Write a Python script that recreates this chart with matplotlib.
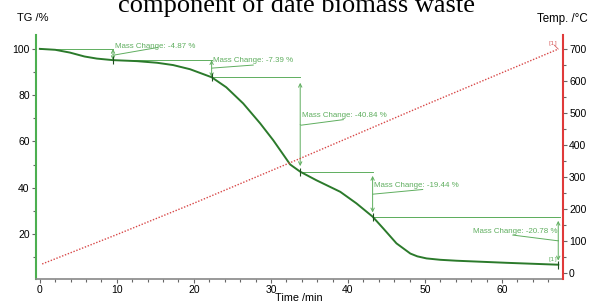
import matplotlib
matplotlib.use("Agg")
import matplotlib.pyplot as plt
import numpy as np
from matplotlib.ticker import MultipleLocator

# ---- data ----
time_tg = [0, 2, 3.9, 5.8, 7.4, 9.5, 12.6, 15.2, 17.3, 19.5, 22.3, 24.2, 26.4,
           28.6, 30.3, 31.6, 32.5, 33.8, 35.9, 39.0, 41.1, 43.2, 44.6, 46.3,
           48.1, 49.0, 50.2, 52.0, 54.1, 60.6, 67.3]
tg = [100, 99.6, 98.4, 96.7, 95.8, 95.13, 94.7, 94.0, 93.0, 91.2, 87.74, 83.4,
      76.4, 67.8, 60.5, 54.3, 50.0, 46.9, 43.2, 38.2, 33.2, 27.46, 22.3, 15.9,
      11.5, 10.3, 9.4, 8.8, 8.4, 7.5, 6.68]
time_temp = [0.3, 10, 20, 33.8, 50, 67.3]
temp = [28, 120, 218, 358, 525, 700]

step_times = [0, 9.5, 22.3, 33.8, 43.2, 67.3]
step_mass = [100, 95.13, 87.74, 46.9, 27.46, 6.68]
step_labels = ["Mass Change: -4.87 %", "Mass Change: -7.39 %", "Mass Change: -40.84 %",
               "Mass Change: -19.44 %", "Mass Change: -20.78 %"]

TG_C = "#2b7a2b"
ANN_C = "#5fae5f"
RED = "#e03a3a"

fig = plt.figure(figsize=(5.95, 3.03), dpi=100)
ax = fig.add_axes([0.0605, 0.0792, 0.8855, 0.8053])
ax2 = ax.twinx()

ax2.plot(time_temp, temp, color="#d84848", ls=(0, (1, 1.2)), lw=1.0)
ax2.plot([time_temp[-1], time_temp[-1] - 0.5], [temp[-1], temp[-1] + 12],
         color="#d86060", lw=0.6)
ax.plot(time_tg, tg, color=TG_C, lw=1.4, zorder=5)

ax.set_xlim(-0.5, 67.9)
ax.set_ylim(0.5, 106)
ax2.set_ylim(-19, 744)

# annotations
fs_ann = 5.7
gaps = [0, 0, 4, 3, 3]
for i in range(5):
    t0, t1 = step_times[i], step_times[i + 1]
    m0, m1 = step_mass[i], step_mass[i + 1]
    ax.plot([t0, t1], [m0, m0], color=ANN_C, lw=0.7)
    mid = (m0 + m1) / 2
    ax.annotate("", xy=(t1, m0), xytext=(t1, mid),
                arrowprops=dict(arrowstyle="->", color=ANN_C, lw=0.7, shrinkA=0,
                                shrinkB=gaps[i], mutation_scale=6))
    ax.annotate("", xy=(t1, m1), xytext=(t1, mid),
                arrowprops=dict(arrowstyle="->", color=ANN_C, lw=0.7, shrinkA=0,
                                shrinkB=gaps[i], mutation_scale=6))
# last step horizontal extends to end
ax.plot([step_times[4], 67.5], [step_mass[4], step_mass[4]], color=ANN_C, lw=0.7)
# small vertical marks at step points
ax.plot(step_times[1:], step_mass[1:], ls="none", marker="|", ms=6, mew=0.8,
        color="#1f4f1f", zorder=6)

# text positions (centre-left, or centre-right for the last one)
txt = [(9.7, 101.2, "left"), (22.5, 95.1, "left"), (34.0, 71.4, "left"),
       (43.4, 41.1, "left"), (67.2, 20.9, "right")]
lead = [((9.6, 97.3), (15.3, 100.6)), ((22.4, 91.7), (27.7, 93.0)),
        ((33.9, 67.0), (39.4, 69.4)), ((43.3, 37.2), (49.7, 39.2)),
        ((67.3, 17.0), (61.4, 19.5))]
for (x, y, ha), lab, (p, q) in zip(txt, step_labels, lead):
    ax.text(x, y, lab, color=ANN_C, fontsize=fs_ann, ha=ha, va="center",
            family="Liberation Sans")
    ax.plot([p[0], q[0]], [p[1], q[1]], color=ANN_C, lw=0.7)

ax.text(66.6, 8.0, "[1]", color=ANN_C, fontsize=4.5, ha="center", va="bottom")
ax2.text(66.6, 712, "[1]", color="#d86060", fontsize=4.5, ha="center", va="bottom")

# axes styling
ax.xaxis.set_major_locator(MultipleLocator(10))
ax.xaxis.set_minor_locator(MultipleLocator(2))
ax.yaxis.set_minor_locator(MultipleLocator(10))
ax.set_yticks([20, 40, 60, 80, 100])
ax2.yaxis.set_minor_locator(MultipleLocator(50))
ax2.set_yticks(range(0, 701, 100))

for a in (ax, ax2):
    a.spines["top"].set_visible(False)
ax.spines["left"].set_color("#4caf50")
ax.spines["left"].set_linewidth(1.5)
ax2.spines["left"].set_visible(False)
ax.spines["right"].set_visible(False)
ax2.spines["right"].set_color(RED)
ax2.spines["right"].set_linewidth(1.5)
ax.spines["bottom"].set_color("#888888")
ax.spines["bottom"].set_linewidth(1.2)
ax2.spines["bottom"].set_visible(False)

tick_font = dict(labelsize=7.5)
ax.tick_params(axis="x", which="major", length=3, width=0.8, color="#666666", pad=1, **tick_font)
ax.tick_params(axis="x", which="minor", length=2, width=0.8, color="#666666")
ax.tick_params(axis="y", which="major", length=3, width=0.8, color="#666666", pad=1.5, **tick_font)
ax.tick_params(axis="y", which="minor", length=2, width=0.8, color="#666666")
ax2.tick_params(axis="y", which="major", length=3, width=0.8, color="#666666", pad=1.5, **tick_font)
ax2.tick_params(axis="y", which="minor", length=2, width=0.8, color="#666666")
for lab in ax.get_xticklabels() + ax.get_yticklabels() + ax2.get_yticklabels():
    lab.set_family("Liberation Sans")

fig.text(0.029, 0.94, "TG /%", fontsize=8, family="Liberation Sans", ha="left", va="center")
fig.text(0.988, 0.937, "Temp. /°C", fontsize=8.3, family="Liberation Sans", ha="right", va="center")
fig.text(0.502, 0.0165, "Time /min", fontsize=7.8, family="Liberation Sans", ha="center", va="center")

fig.text(0.4975, 0.962, "component of date biomass waste", fontsize=19,
         family="Liberation Serif", ha="center", va="baseline")

fig.savefig("out.png", dpi=100, facecolor="white")
